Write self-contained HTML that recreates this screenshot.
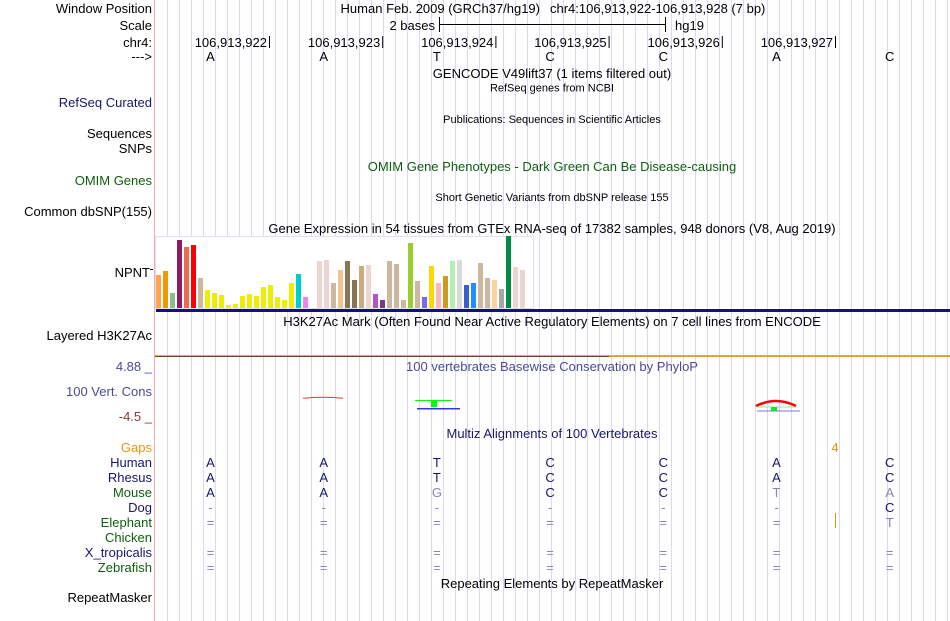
<!DOCTYPE html>
<html>
<head>
<meta charset="utf-8">
<style>
html,body{margin:0;padding:0;background:#fff;}
body{width:950px;height:621px;overflow:hidden;}
svg{display:block;}
text{font-family:"Liberation Sans",Arial,sans-serif;font-size:13px;}
.s{font-size:11px;}
.e{text-anchor:end;}
.m{text-anchor:middle;}
.nv{fill:#16166e;}
.gr{fill:#0e5e0e;}
.gy{fill:#8686b6;}
</style>
</head>
<body>
<svg width="950" height="621" viewBox="0 0 950 621" xmlns="http://www.w3.org/2000/svg">
<defs>
<pattern id="gl" x="167" y="0" width="12" height="621" patternUnits="userSpaceOnUse">
<rect x="0" y="0" width="1" height="621" fill="#dcd8f4"/>
</pattern>
</defs>
<rect x="0" y="0" width="950" height="621" fill="#fff"/>
<rect x="167" y="0" width="783" height="621" fill="url(#gl)"/>
<rect x="154" y="0" width="1" height="621" fill="#f6aaaa"/>

<!-- Header -->
<text x="152" y="13" class="e">Window Position</text>
<text x="540" y="13" class="e">Human Feb. 2009 (GRCh37/hg19)</text>
<text x="550" y="13">chr4:106,913,922-106,913,928 (7 bp)</text>

<text x="152" y="30" class="e">Scale</text>
<text x="435" y="30" class="e">2 bases</text>
<rect x="439" y="17" width="1" height="15" fill="#000"/>
<rect x="440" y="24" width="225" height="1" fill="#000"/>
<rect x="665" y="17" width="1" height="15" fill="#000"/>
<text x="675" y="30">hg19</text>

<text x="152" y="47" class="e">chr4:</text>
<text x="267" y="47" class="e">106,913,922</text>
<rect x="269" y="36" width="1" height="12" fill="#000"/>
<text x="380.2" y="47" class="e">106,913,923</text>
<rect x="382.2" y="36" width="1" height="12" fill="#000"/>
<text x="493.4" y="47" class="e">106,913,924</text>
<rect x="495.4" y="36" width="1" height="12" fill="#000"/>
<text x="606.6" y="47" class="e">106,913,925</text>
<rect x="608.6" y="36" width="1" height="12" fill="#000"/>
<text x="719.8" y="47" class="e">106,913,926</text>
<rect x="721.8" y="36" width="1" height="12" fill="#000"/>
<text x="833" y="47" class="e">106,913,927</text>
<rect x="835" y="36" width="1" height="12" fill="#000"/>

<text x="152" y="61" class="e">---&gt;</text>
<text x="210.5" y="61" class="m">A</text>
<text x="323.7" y="61" class="m">A</text>
<text x="436.9" y="61" class="m">T</text>
<text x="550.1" y="61" class="m">C</text>
<text x="663.3" y="61" class="m">C</text>
<text x="776.5" y="61" class="m">A</text>
<text x="889.7" y="61" class="m">C</text>

<text x="552" y="78" class="m">GENCODE V49lift37 (1 items filtered out)</text>
<text x="552" y="91.5" class="m s">RefSeq genes from NCBI</text>
<text x="152" y="107" class="e nv">RefSeq Curated</text>
<text x="552" y="123" class="m s">Publications: Sequences in Scientific Articles</text>
<text x="152" y="138" class="e">Sequences</text>
<text x="152" y="153" class="e">SNPs</text>
<text x="552" y="171" class="m gr">OMIM Gene Phenotypes - Dark Green Can Be Disease-causing</text>
<text x="152" y="185" class="e gr">OMIM Genes</text>
<text x="552" y="201" class="m s">Short Genetic Variants from dbSNP release 155</text>
<text x="152" y="216" class="e">Common dbSNP(155)</text>
<text x="552" y="233" class="m">Gene Expression in 54 tissues from GTEx RNA-seq of 17382 samples, 948 donors (V8, Aug 2019)</text>

<!-- GTEx box -->
<rect x="155.5" y="236.5" width="378" height="72" fill="#fff" stroke="#e0e0ea" stroke-width="1"/>
<text x="150" y="277" class="e">NPNT</text>
<rect x="150" y="269" width="3" height="1" fill="#000"/>
<g>
<rect x="156" y="275" width="5" height="33" fill="#ffa54f"/>
<rect x="163" y="271" width="5" height="37" fill="#ee9a00"/>
<rect x="170" y="293" width="5" height="15" fill="#8fbc8f"/>
<rect x="177" y="240" width="5" height="68" fill="#8b1c62"/>
<rect x="184" y="247" width="5" height="61" fill="#ee6a50"/>
<rect x="191" y="245" width="5" height="63" fill="#ff0000"/>
<rect x="198" y="278" width="5" height="30" fill="#cdb79e"/>
<rect x="205" y="290" width="5" height="18" fill="#eeee00"/>
<rect x="212" y="293" width="5" height="15" fill="#eeee00"/>
<rect x="219" y="295" width="5" height="13" fill="#eeee00"/>
<rect x="226" y="305" width="5" height="3" fill="#eeee00"/>
<rect x="233" y="304" width="5" height="4" fill="#eeee00"/>
<rect x="240" y="296" width="5" height="12" fill="#eeee00"/>
<rect x="247" y="294" width="5" height="14" fill="#eeee00"/>
<rect x="254" y="296" width="5" height="12" fill="#eeee00"/>
<rect x="261" y="287" width="5" height="21" fill="#eeee00"/>
<rect x="268" y="285" width="5" height="23" fill="#eeee00"/>
<rect x="275" y="297" width="5" height="11" fill="#eeee00"/>
<rect x="282" y="300" width="5" height="8" fill="#eeee00"/>
<rect x="289" y="283" width="5" height="25" fill="#eeee00"/>
<rect x="296" y="274" width="5" height="34" fill="#00cdcd"/>
<rect x="303" y="297" width="5" height="11" fill="#ee82ee"/>
<rect x="317" y="261" width="5" height="47" fill="#eed5d2"/>
<rect x="324" y="260" width="5" height="48" fill="#eed5d2"/>
<rect x="331" y="283" width="5" height="25" fill="#cdb79e"/>
<rect x="338" y="270" width="5" height="38" fill="#eec591"/>
<rect x="345" y="261" width="5" height="47" fill="#8b7355"/>
<rect x="352" y="280" width="5" height="28" fill="#8b7355"/>
<rect x="359" y="266" width="5" height="42" fill="#cdaa7d"/>
<rect x="366" y="265" width="5" height="43" fill="#eed5d2"/>
<rect x="373" y="294" width="5" height="14" fill="#b452cd"/>
<rect x="380" y="300" width="5" height="8" fill="#7a378b"/>
<rect x="387" y="261" width="5" height="47" fill="#cdb79e"/>
<rect x="394" y="264" width="5" height="44" fill="#cdb79e"/>
<rect x="401" y="300" width="5" height="8" fill="#cdb79e"/>
<rect x="408" y="243" width="5" height="65" fill="#9acd32"/>
<rect x="415" y="281" width="5" height="27" fill="#cdb79e"/>
<rect x="422" y="297" width="5" height="11" fill="#7b68ee"/>
<rect x="429" y="266" width="5" height="42" fill="#ffd700"/>
<rect x="436" y="283" width="5" height="25" fill="#ffb6c1"/>
<rect x="443" y="276" width="5" height="32" fill="#cd9b1d"/>
<rect x="450" y="261" width="5" height="47" fill="#b4eeb4"/>
<rect x="457" y="260" width="5" height="48" fill="#d9d9d9"/>
<rect x="464" y="285" width="5" height="23" fill="#3a5fcd"/>
<rect x="471" y="283" width="5" height="25" fill="#1e90ff"/>
<rect x="478" y="263" width="5" height="45" fill="#cdb79e"/>
<rect x="485" y="278" width="5" height="30" fill="#cdb79e"/>
<rect x="492" y="280" width="5" height="28" fill="#ffd39b"/>
<rect x="499" y="289" width="5" height="19" fill="#a6a6a6"/>
<rect x="506" y="236" width="5" height="72" fill="#008b45"/>
<rect x="513" y="267" width="5" height="41" fill="#eed5d2"/>
<rect x="520" y="270" width="5" height="38" fill="#eed5d2"/>
</g>
<rect x="156" y="309" width="794" height="3" fill="#14146e"/>

<!-- H3K27Ac -->
<text x="552" y="326" class="m">H3K27Ac Mark (Often Found Near Active Regulatory Elements) on 7 cell lines from ENCODE</text>
<text x="152" y="340" class="e">Layered H3K27Ac</text>
<rect x="155" y="355" width="795" height="1" fill="#eaa840"/>
<rect x="155" y="356" width="454" height="1" fill="#6a4a3a"/>
<rect x="609" y="356" width="341" height="1" fill="#e39a35"/>

<!-- Conservation -->
<text x="152" y="371" class="e" fill="#4a4a96">4.88 _</text>
<text x="552" y="371" class="m" fill="#4a4a96">100 vertebrates Basewise Conservation by PhyloP</text>
<text x="152" y="396" class="e" fill="#4a4a96">100 Vert. Cons</text>
<text x="152" y="421" class="e" fill="#8b3535">-4.5 _</text>
<path d="M303 398.3 Q323 396.3 343 398.3" stroke="#ff3030" stroke-width="1" fill="none"/>
<rect x="415" y="400" width="37" height="1" fill="#00ff00"/>
<rect x="431" y="400" width="6" height="7" fill="#00ff00"/>
<rect x="417" y="408" width="43" height="1.5" fill="#3535e0"/>
<path d="M756 406 Q776 396 796 406" stroke="#ff0000" stroke-width="2.6" fill="none"/>
<rect x="755" y="406.5" width="41" height="1" fill="#90ee90"/>
<rect x="771" y="407" width="6" height="4" fill="#00ff00"/>
<rect x="757" y="410.5" width="43" height="1" fill="#7a7ae6"/>

<!-- Multiz -->
<text x="552" y="438" class="m nv">Multiz Alignments of 100 Vertebrates</text>
<text x="152" y="452" class="e" fill="#f0900f">Gaps</text>
<text x="835" y="452" class="m" fill="#e8900f">4</text>
<rect x="835" y="513" width="1" height="15" fill="#e8900f"/>

<text x="152" y="467" class="e nv">Human</text>
<text x="152" y="482" class="e nv">Rhesus</text>
<text x="152" y="497" class="e gr">Mouse</text>
<text x="152" y="512" class="e nv">Dog</text>
<text x="152" y="527" class="e gr">Elephant</text>
<text x="152" y="542" class="e gr">Chicken</text>
<text x="152" y="557" class="e nv">X_tropicalis</text>
<text x="152" y="572" class="e gr">Zebrafish</text>

<g class="m">
<text x="210.5" y="467" class="m nv">A</text>
<text x="323.7" y="467" class="m nv">A</text>
<text x="436.9" y="467" class="m nv">T</text>
<text x="550.1" y="467" class="m nv">C</text>
<text x="663.3" y="467" class="m nv">C</text>
<text x="776.5" y="467" class="m nv">A</text>
<text x="889.7" y="467" class="m nv">C</text>
<text x="210.5" y="482" class="m nv">A</text>
<text x="323.7" y="482" class="m nv">A</text>
<text x="436.9" y="482" class="m nv">T</text>
<text x="550.1" y="482" class="m nv">C</text>
<text x="663.3" y="482" class="m nv">C</text>
<text x="776.5" y="482" class="m nv">A</text>
<text x="889.7" y="482" class="m nv">C</text>
<text x="210.5" y="497" class="m nv">A</text>
<text x="323.7" y="497" class="m nv">A</text>
<text x="436.9" y="497" class="m gy">G</text>
<text x="550.1" y="497" class="m nv">C</text>
<text x="663.3" y="497" class="m nv">C</text>
<text x="776.5" y="497" class="m gy">T</text>
<text x="889.7" y="497" class="m gy">A</text>
<text x="210.5" y="512" class="m gy">-</text>
<text x="323.7" y="512" class="m gy">-</text>
<text x="436.9" y="512" class="m gy">-</text>
<text x="550.1" y="512" class="m gy">-</text>
<text x="663.3" y="512" class="m gy">-</text>
<text x="776.5" y="512" class="m gy">-</text>
<text x="889.7" y="512" class="m nv">C</text>
<text x="210.5" y="527" class="m gy">=</text>
<text x="323.7" y="527" class="m gy">=</text>
<text x="436.9" y="527" class="m gy">=</text>
<text x="550.1" y="527" class="m gy">=</text>
<text x="663.3" y="527" class="m gy">=</text>
<text x="776.5" y="527" class="m gy">=</text>
<text x="889.7" y="527" class="m gy">T</text>
<text x="210.5" y="557" class="m gy">=</text>
<text x="323.7" y="557" class="m gy">=</text>
<text x="436.9" y="557" class="m gy">=</text>
<text x="550.1" y="557" class="m gy">=</text>
<text x="663.3" y="557" class="m gy">=</text>
<text x="776.5" y="557" class="m gy">=</text>
<text x="889.7" y="557" class="m gy">=</text>
<text x="210.5" y="572" class="m gy">=</text>
<text x="323.7" y="572" class="m gy">=</text>
<text x="436.9" y="572" class="m gy">=</text>
<text x="550.1" y="572" class="m gy">=</text>
<text x="663.3" y="572" class="m gy">=</text>
<text x="776.5" y="572" class="m gy">=</text>
<text x="889.7" y="572" class="m gy">=</text>
</g>

<text x="552" y="588" class="m">Repeating Elements by RepeatMasker</text>
<text x="152" y="602" class="e">RepeatMasker</text>
</svg>
</body>
</html>
